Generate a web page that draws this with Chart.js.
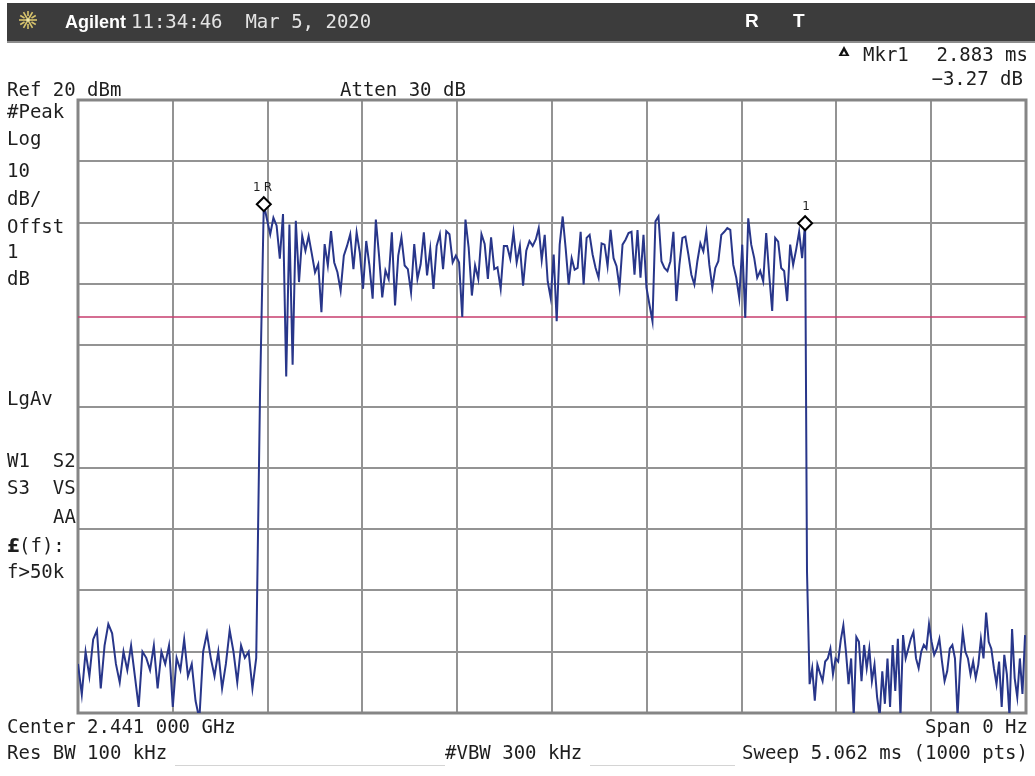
<!DOCTYPE html>
<html lang="en">
<head>
<meta charset="utf-8">
<title>Agilent zero span</title>
<script src="https://cdn.jsdelivr.net/npm/chart.js@4.4.1/dist/chart.umd.min.js"></script>
<style>
  html, body { margin: 0; padding: 0; background: #fff; }
  canvas { display: block; }
</style>
</head>
<body>
<canvas id="sweepChart" width="1035" height="776"></canvas>
<script>
// Escala del analizador: 1000 puntos de barrido, Ref 20 dBm, 10 dB/div
const sweepPoints = 1000;
const refLevel = 20;
const bottomLevel = -80;
const dbPerDiv = 10;
const displayLineLevel = -15.4;

// Niveles (dBm), por tramos
const leftNoise = [-72, -77, -70, -74, -68, -66.5, -76, -69, -65.5, -67, -72, -75, -70, -73, -69, -74,
  -79, -70, -71, -73, -69, -76, -70, -72, -69, -79, -71, -73, -68, -74, -72, -78, -81, -70, -67, -71,
  -74, -70, -76, -72, -66.5, -70, -75, -69, -71, -70, -76, -71, -28];
const burstA = [3.0, 0.5, -1.9, 0.8, -0.5, -5.9, 1.4, -25.1, -0.3, -23.2, 0.3, -9.7, -2.2, -4.6, -2.2,
  -5.1, -8.1, -6.8, -14.6, -3.5, -7.0, -1.4, -6.5, -8.1, -11.1, -5.4, -3.8, -1.9, -7.6, -1.6, -4.9,
  -10.8, -3.0, -7.0, -12.4, 0.5, -5.4, -12.2, -7.8, -9.2, -1.6, -13.5, -5.4, -2.4, -7.0, -7.6, -11.4,
  -3.5, -9.2, -6.8, -1.6, -8.6, -4.3, -10.8, -3.8, -1.9, -7.6, -1.4, -1.9, -6.5, -5.4, -6.5, -15.4,
  0.5, -4.1, -11.9, -7.0, -9.2, -1.9, -3.5, -9.2, -2.4, -7.6, -7.3, -10.8, -3.8, -3.8, -5.9, -1.6,
  -6.5, -3.8, -10.3, -4.6, -3.0, -3.8, -2.7];
const burstB = [-0.9, -6.1, -2.0, -9.6, -12.3, -5.2, -16.1, -3.6, 1.0, -4.2, -10.1, -5.8, -7.7, -7.4,
  -1.5, -10.1, -2.5, -2.0, -5.2, -7.4, -9.0, -3.4, -3.6, -7.1, -1.2, -5.8, -7.1, -10.6, -3.6, -2.8,
  -1.7, -1.5, -8.5, -1.2, -9.0, -2.0, -10.6, -13.4, -16.1, 0.2, 1.0, -6.3, -7.4, -7.9, -6.3, -1.5,
  -12.8, -6.9, -2.5, -2.3, -5.2, -8.5, -10.1, -6.3, -3.4, -4.7, -1.5, -6.9, -10.6, -7.4, -6.3, -2.0,
  -1.5, -0.9, -1.2, -6.9, -9.0, -12.3, -3.6, -15.5, 0.7, -3.6, -5.8, -9.0, -7.9, -9.6, -1.7, -8.5,
  -14.4, -2.5, -3.1, -7.4, -7.9, -12.8, -3.6, -6.9, -4.4, -1.5, -5.8, -0.1];
const rightNoise = [-57, -75.3, -72.7, -78.0, -72.1, -73.5, -74.8, -71.6, -71.1, -69.5, -73.7, -71.1,
  -71.6, -68.1, -65.7, -70.0, -75.3, -71.1, -80.5, -67.6, -68.4, -74.8, -68.9, -72.7, -69.5, -74.8,
  -72.1, -77.4, -80.5, -73.2, -78.5, -71.1, -79.0, -68.9, -76.4, -67.9, -80.5, -67.3, -71.1, -69.5,
  -67.9, -66.8, -71.1, -72.7, -70.0, -68.9, -69.5, -65.5, -68.4, -70.5, -69.5, -67.9, -71.6, -74.8,
  -73.2, -69.5, -68.9, -71.1, -80.5, -72.1, -66.8, -70.0, -71.1, -73.7, -71.6, -74.3, -72.1, -67.9,
  -71.1, -63.6, -68.4, -69.5, -72.7, -75.3, -71.6, -79.0, -70.5, -73.7, -80.5, -66.3, -74.3, -77.4,
  -71.1, -76.9, -67.3];

// Punto de barrido donde empieza y termina cada tramo
const segmentStarts = [0, 196, 486, 769];
const segmentEnds = [192, 483, 767, 999];
const segmentValues = [leftNoise, burstA, burstB, rightNoise];

// Marcadores: 1R (referencia) y 1 (delta)
const markerLabels = ['1R', '1'];
const markerPoints = [196, 767];
const markerLevels = [burstA[0], burstB[burstB.length - 1]];

// Construye la traza {x, y} a partir de los tramos
const buildTrace = () => {
    const trace = [];
    segmentValues.forEach((values, s) => {
        const step = (segmentEnds[s] - segmentStarts[s]) / (values.length - 1);
        values.forEach((v, k) => trace.push({ x: segmentStarts[s] + k * step, y: v }));
    });
    return trace;
};

const MONO = '19px "DejaVu Sans Mono", "Liberation Mono", monospace';
const TEXT_COLOR = '#1e1e1e';

// Textos de la pantalla del analizador
const panelLabels = [
    ['Ref 20 dBm', 7, 96], ['Atten 30 dB', 340, 96],
    ['#Peak', 7, 118], ['Log', 7, 145], ['10', 7, 177], ['dB/', 7, 205], ['Offst', 7, 233],
    ['1', 7, 258], ['dB', 7, 285], ['LgAv', 7, 405],
    ['W1  S2', 7, 467], ['S3  VS', 7, 494], ['AA', 76, 523, 'right'],
    ['(f):', 19, 552], ['f>50k', 7, 578],
    ['Center 2.441 000 GHz', 7, 733], ['Span 0 Hz', 1028, 733, 'right'],
    ['Res BW 100 kHz', 7, 759], ['#VBW 300 kHz', 445, 759],
    ['Sweep 5.062 ms (1000 pts)', 1028, 759, 'right'],
    ['Mkr1', 863, 61], ['2.883 ms', 1028, 61, 'right'], ['\u22123.27 dB', 1023, 85, 'right']
];

const drawText = (ctx, text, x, y, align = 'left', font = MONO, color = TEXT_COLOR) => {
    ctx.font = font;
    ctx.fillStyle = color;
    ctx.textAlign = align;
    ctx.textBaseline = 'alphabetic';
    ctx.fillText(text, x, y);
};

// Logo (estrella amarilla) de la barra superior
const drawLogo = (ctx, cx, cy) => {
    ctx.save();
    ctx.strokeStyle = '#d8c46c';
    ctx.lineWidth = 1.6;
    for (let k = 0; k < 12; k++) {
        const a = k * Math.PI / 6;
        const r0 = k % 2 ? 4 : 2;
        ctx.beginPath();
        ctx.moveTo(cx + r0 * Math.cos(a), cy + r0 * Math.sin(a));
        ctx.lineTo(cx + 9 * Math.cos(a), cy + 9 * Math.sin(a));
        ctx.stroke();
    }
    ctx.fillStyle = '#f0e6a0';
    ctx.beginPath();
    ctx.arc(cx, cy, 2, 0, Math.PI * 2);
    ctx.fill();
    ctx.restore();
};

const screenPlugin = {
    id: 'screen',
    beforeDraw(chart) {
        const ctx = chart.ctx;
        ctx.save();
        ctx.fillStyle = '#ffffff';
        ctx.fillRect(0, 0, chart.width, chart.height);
        // barra superior
        ctx.fillStyle = '#3c3c3c';
        ctx.fillRect(7, 3, chart.width - 7, 38);
        ctx.fillStyle = '#8c8c8c';
        ctx.fillRect(7, 41, chart.width - 7, 2);
        drawLogo(ctx, 28, 20);
        drawText(ctx, 'Agilent', 65, 28, 'left', 'bold 18px "Liberation Sans", Arial, sans-serif', '#ffffff');
        drawText(ctx, '11:34:46  Mar 5, 2020', 131, 28, 'left', MONO, '#e4e4e4');
        drawText(ctx, 'R', 745, 27, 'left', 'bold 19px "Liberation Sans", Arial, sans-serif', '#ffffff');
        drawText(ctx, 'T', 793, 27, 'left', 'bold 19px "Liberation Sans", Arial, sans-serif', '#ffffff');
        // líneas claras bajo los campos inferiores
        ctx.fillStyle = '#d4d4d4';
        ctx.fillRect(175, 765, 270, 1);
        ctx.fillRect(590, 765, 145, 1);
        ctx.restore();
    },
    beforeDatasetsDraw(chart) {
        const { ctx, chartArea: a } = chart;
        ctx.save();
        ctx.strokeStyle = '#858585';
        ctx.lineWidth = 3;
        ctx.strokeRect(a.left, a.top, a.right - a.left, a.bottom - a.top);
        ctx.restore();
    },
    afterDraw(chart) {
        const ctx = chart.ctx;
        ctx.save();
        panelLabels.forEach(([t, x, y, align]) => drawText(ctx, t, x, y, align || 'left'));
        drawText(ctx, '\u00a3', 7, 552, 'left', 'bold 19px "DejaVu Sans", sans-serif');
        // delta del Mkr1
        ctx.fillStyle = '#111';
        ctx.beginPath();
        ctx.moveTo(844, 46); ctx.lineTo(849.5, 56); ctx.lineTo(838.5, 56); ctx.closePath();
        ctx.fill();
        ctx.fillStyle = '#fff';
        ctx.beginPath();
        ctx.moveTo(844, 51); ctx.lineTo(846, 54.5); ctx.lineTo(842, 54.5); ctx.closePath();
        ctx.fill();
        // etiquetas de los marcadores
        const xs = chart.scales.x, ys = chart.scales.y;
        markerLabels.forEach((label, i) => {
            const px = xs.getPixelForValue(markerPoints[i]);
            const py = ys.getPixelForValue(markerLevels[i]) - 13;
            const f = '12px "DejaVu Sans", sans-serif';
            if (label.length > 1) {
                drawText(ctx, label[0], px - 7, py, 'center', f);
                drawText(ctx, label[1], px + 4, py, 'center', f);
            } else {
                drawText(ctx, label, px + 1, py, 'center', f);
            }
        });
        ctx.restore();
    }
};

const gridStyle = { color: '#939393', lineWidth: 2, drawTicks: false };

new Chart(document.getElementById('sweepChart'), {
    type: 'line',
    data: {
        datasets: [
            {
                // marcadores
                data: markerPoints.map((p, i) => ({ x: p, y: markerLevels[i] })),
                showLine: false,
                pointStyle: 'rectRot',
                pointRadius: 7,
                pointBorderWidth: 2,
                pointBorderColor: '#000',
                pointBackgroundColor: '#fff',
                clip: false,
                order: 0
            },
            {
                // traza
                data: buildTrace(),
                borderColor: '#28368a',
                borderWidth: 2,
                pointRadius: 0,
                tension: 0,
                clip: 0,
                order: 1
            },
            {
                // línea de display
                data: [{ x: 0, y: displayLineLevel }, { x: sweepPoints, y: displayLineLevel }],
                borderColor: '#c73c6e',
                borderWidth: 1.5,
                pointRadius: 0,
                order: 2
            }
        ]
    },
    options: {
        responsive: false,
        animation: false,
        events: [],
        layout: { padding: { left: 78, top: 100, right: 5, bottom: 63 } },
        plugins: { legend: { display: false }, tooltip: { enabled: false } },
        scales: {
            x: {
                type: 'linear', min: 0, max: sweepPoints,
                ticks: { display: false, stepSize: sweepPoints / 10 },
                grid: gridStyle, border: { display: false },
                afterFit: s => { s.height = 0; }
            },
            y: {
                type: 'linear', min: bottomLevel, max: refLevel,
                ticks: { display: false, stepSize: dbPerDiv },
                grid: gridStyle, border: { display: false },
                afterFit: s => { s.width = 0; }
            }
        }
    },
    plugins: [screenPlugin]
});
</script>
</body>
</html>
